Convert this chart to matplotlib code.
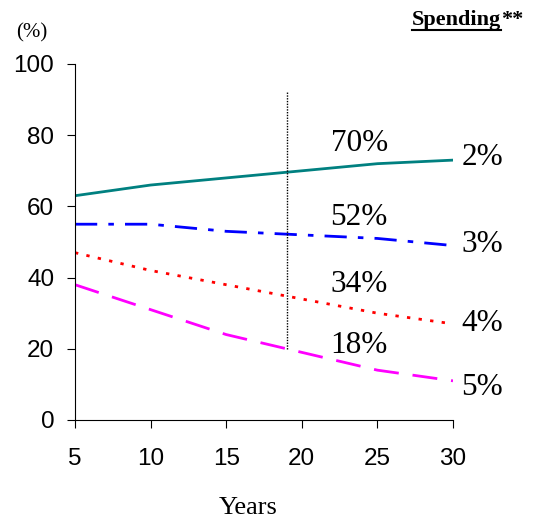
import matplotlib
matplotlib.use("Agg")
import matplotlib.pyplot as plt

# values
years = [5, 10, 15, 20, 25, 30]
rate_2 = [63, 66, 68, 70, 72, 73]
rate_3 = [55, 55, 53, 52, 51, 49]
rate_4 = [47, 42, 38, 34, 30, 27]
rate_5 = [38, 31, 24, 19, 14, 11]
rate_labels = ["2%", "3%", "4%", "5%"]
at_19 = ["70%", "52%", "34%", "18%"]
marker_year = 19
marker_span = [20, 92]

fig = plt.figure(figsize=(5.36, 5.18), dpi=100)
ax = fig.add_axes([75 / 536, 1 - 420 / 518, (453 - 75) / 536, (420 - 64) / 518])

series = [rate_2, rate_3, rate_4, rate_5]
colors = ["#008080", "#0000ff", "#ff0000", "#ff00ff"]
styles = ["-", (0, (8, 4, 2, 4)), (0, (1.2, 3)), (0, (9, 5))]
for vals, c, ls in zip(series, colors, styles):
    ax.plot(years, vals, color=c, linestyle=ls, lw=2)

ax.vlines(marker_year, marker_span[0], marker_span[1], color="black",
          linestyle=(0, (1, 1)), lw=1)

label_y = [77.8, 57, 38, 21]
for txt, y in zip(at_19, label_y):
    ax.text(23.8, y, txt, fontsize=22.5, family="Liberation Serif", ha="center", va="center")
right_y = [73.6, 49.4, 27.2, 9]
for txt, y in zip(rate_labels, right_y):
    ax.text(30.55, y, txt, fontsize=22.5, family="Liberation Serif",
            ha="left", va="center", clip_on=False)

ax.set_xlim(5, 30)
ax.set_ylim(0, 100)
ax.set_xticks(years)
ax.set_yticks([0, 20, 40, 60, 80, 100])
for s in ["top", "right"]:
    ax.spines[s].set_visible(False)
ax.tick_params(direction="out", length=6, labelsize=17.5, pad=9)
for lab in ax.get_xticklabels() + ax.get_yticklabels():
    lab.set_family("Liberation Sans")
ax.tick_params(axis="x", pad=14)

fig.text(248 / 536, 1 - 508 / 518, "Years", fontsize=19, family="Liberation Serif",
         ha="center", va="center")
fig.text(32 / 536, 1 - 33 / 518, "(%)", fontsize=15, family="Liberation Serif",
         ha="center", va="center")

# underlined header, stars placed right after the word
sp = fig.text(412 / 536, 1 - 20 / 518, "Spending", fontsize=16, family="Liberation Serif",
              weight="bold", ha="left", va="center")
fig.canvas.draw()
bb = sp.get_window_extent().transformed(fig.transFigure.inverted())
fig.text(bb.x1, 1 - 20 / 518, "**", fontsize=16, family="Liberation Serif",
         weight="bold", ha="left", va="center")
fig.add_artist(plt.Line2D([bb.x0, bb.x1], [1 - 30 / 518, 1 - 30 / 518],
                          color="black", lw=1.5))

fig.savefig("out.png", dpi=100)
